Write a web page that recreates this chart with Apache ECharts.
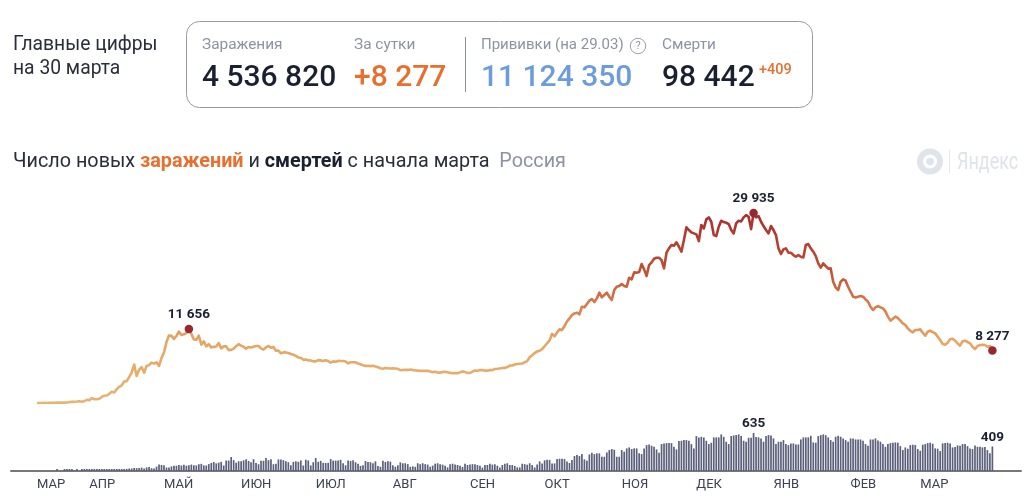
<!DOCTYPE html>
<html lang="ru"><head><meta charset="utf-8">
<script src="https://cdn.jsdelivr.net/npm/echarts@6/dist/echarts.min.js"></script>
<style>html,body{margin:0;padding:0;background:#fff}#c{width:1032px;height:502px}</style>
</head><body><div id="c"></div>
<script>
// daily series start on 11 Mar 2020 and end on 30 Mar 2021
const newCases = [
8,6,11,14,4,30,21,33,52,54,53,57,71,163,182,196,228,270,197,302,500,
440,771,601,582,658,954,1154,1175,1459,1786,1667,2186,2558,2774,3388,3448,4070,4785,6060,4268,5236,5642,4774,5849,5966,6361,6198,6411,5841,7099,
7933,9623,10633,10581,10102,10559,11231,10699,10817,11012,11656,10899,10028,9974,10598,9200,9709,8926,9263,8764,8849,8894,9434,8599,8946,8915,8338,8371,8572,8952,9268,
9035,8863,8536,8831,8726,8855,8984,8985,8595,8404,8779,8987,8706,8835,8246,8248,7843,7972,7972,7889,7728,7600,7425,7176,7113,6800,6852,6719,6693,6556,
6556,6760,6718,6632,6736,6611,6368,6562,6509,6635,6611,6615,6537,6248,6422,6428,6406,6234,6109,5940,5842,5862,5811,5871,5765,5635,5475,5395,5509,5482,5427,
5462,5427,5394,5159,5204,5241,5212,5267,5189,5118,5102,5057,5065,5061,5077,4969,4839,4914,4790,4785,4870,4921,4852,4744,4696,4711,4676,4829,4980,4897,4729,
4729,4952,5110,5063,5195,5185,5099,5099,5218,5172,5363,5394,5449,5509,5529,5670,5905,5905,6065,6148,6196,6215,6431,6595,7212,7523,7867,8135,8232,8481,
8945,9412,9859,10888,10499,11115,11615,11493,12126,12846,13335,13860,14120,14230,13965,15170,15070,15590,16120,16380,15910,16485,17380,16640,17010,17380,16750,16220,17800,18320,18430,
18740,18430,18320,19740,19480,20580,20530,20630,21890,21050,20000,21735,22155,22730,22890,22890,22520,21210,23680,24360,24885,24780,25305,24620,23835,25670,27670,27250,26880,26720,
26565,25515,28035,27510,28930,29240,28560,26460,26300,27770,28720,28510,28400,28190,27250,26720,28300,28720,28610,29240,29610,29350,27400,29935,29240,29450,28560,27880,27250,26720,27880,
27250,26460,24360,23470,24200,24360,23680,23680,23310,23050,23310,23050,22940,24885,25040,24360,23835,23150,22000,21315,22000,21580,21160,21210,19110,18220,17800,19110,19480,19270,18320,
17535,16750,16640,16750,16850,16750,16330,15960,15170,14650,15070,15280,15070,14910,14440,13600,12970,13280,13600,13390,12970,12550,12290,11760,11390,11130,11500,11500,
11600,11080,10600,11235,11390,11180,10970,10450,9920,9290,9190,9500,10030,10130,9820,9400,9030,9710,9820,9610,9400,8870,8500,8980,9135,9190,9135,8870,8980,8277
];
const newDeaths = [
null,null,null,null,null,null,null,null,1,null,null,1,1,1,1,null,3,null,1,1,4,
2,9,2,4,4,2,11,18,13,12,12,13,22,18,28,36,41,42,48,47,51,57,42,60,66,47,43,72,108,101,
96,57,58,76,86,88,98,92,104,88,94,107,96,93,113,119,94,91,115,135,150,127,139,153,92,174,174,232,181,138,162,
162,178,197,169,144,197,134,112,171,171,216,181,194,113,119,194,193,181,161,147,95,153,161,154,176,92,188,176,93,147,
216,154,168,135,134,136,198,173,174,174,188,130,95,173,165,181,146,119,85,95,165,150,147,129,161,85,70,169,150,161,156,
95,70,95,144,129,129,114,70,77,70,129,114,129,114,107,70,90,122,129,114,107,88,60,114,121,107,100,86,68,121,100,
107,114,114,100,88,57,100,100,121,107,114,88,58,100,121,129,100,100,85,60,60,121,114,105,129,99,60,110,160,125,
177,188,183,127,127,199,205,205,199,160,133,183,249,266,249,282,194,172,277,305,282,294,294,238,238,310,349,366,355,238,238,
349,321,377,393,366,377,377,294,283,377,432,443,421,404,360,305,449,460,465,465,465,404,360,500,504,515,515,504,449,377,
582,558,570,559,504,449,471,560,560,560,610,570,488,449,582,593,599,610,582,504,488,554,554,635,565,560,543,488,582,599,593,
543,449,488,488,515,449,432,460,460,443,443,526,560,560,560,587,476,471,582,598,610,598,560,515,488,571,587,571,543,515,488,
543,543,526,526,526,504,449,421,526,526,543,510,488,449,404,449,465,471,476,471,415,349,393,371,432,438,432,366,
338,438,449,465,471,454,377,371,332,460,465,471,460,393,399,427,421,449,449,415,377,366,427,404,404,393,399,349,294,409
];
const monthNames = ['МАР','АПР','МАЙ','ИЮН','ИЮЛ','АВГ','СЕН','ОКТ','НОЯ','ДЕК','ЯНВ','ФЕВ','МАР','АПР'];
const monthDays  = [31,30,31,30,31,31,30,31,30,31,31,28,31,10];
const leadDays = 10;      // empty days before the first reading
const caseMarks  = [[71,'11 656'],[298,'29 935'],[394,'8 277']];   // day index, label
const deathMarks = [[298,'635'],[394,'409']];

const categories = [], tickText = {};
monthNames.forEach((m,k)=>{
  for(let d=0;d<monthDays[k];d++){
    const name=m+'-'+k+'-'+(d+1);
    if(k<13 && ((k===0&&d===leadDays)||(k>0&&d===0))) tickText[name]=m;
    categories.push(name);
  }
});
const pad = a => Array(leadDays).fill(null).concat(a);
const caseData = pad(newCases), deathData = pad(newDeaths);
deathMarks.forEach(([i,t])=>{ deathData[i]={value:deathData[i],label:{show:true,position:'top',distance:2,formatter:t,color:'#1b2030',fontFamily:'Roboto',fontWeight:700,fontSize:13.5}}; });

const FONT='Roboto', GREY='#8e93a3', DARK='#1b2030', ORANGE='#e8702f', BLUE='#6c9cdb';
const t=(x,y,text,size,color,weight,extra)=>({type:'text',x,y,silent:true,style:Object.assign({text,fontFamily:FONT,fontSize:size,fontWeight:weight||400,fill:color,textVerticalAlign:'middle'},extra||{})});

const chart=echarts.init(document.getElementById('c'),null,{renderer:'canvas'});
chart.setOption({
  animation:false,
  title:{left:13,top:152,padding:0,text:'{n|Число новых }{o|заражений}{n| и }{b|смертей}{n| с начала марта}{g|  Россия}',
    textStyle:{fontWeight:400,rich:{
      n:{fontFamily:FONT,fontSize:19.8,fontWeight:400,color:'#2a2e3a'},
      o:{fontFamily:FONT,fontSize:19.8,color:ORANGE,fontWeight:700},
      b:{fontFamily:FONT,fontSize:19.8,color:DARK,fontWeight:700},
      g:{fontFamily:FONT,fontSize:19.8,fontWeight:400,color:GREY}
    }}},
  grid:[{left:11,right:11,top:212.6,height:190.4},{left:11,right:11,top:429,height:42}],
  xAxis:[
    {type:'category',gridIndex:0,data:categories,show:false},
    {type:'category',gridIndex:1,data:categories,
      axisLine:{lineStyle:{color:'#77787d',width:2}},axisTick:{show:false},
      axisLabel:{interval:(i,v)=>v in tickText,formatter:v=>tickText[v]||'',align:'left',margin:7,color:'#3d4152',fontFamily:FONT,fontSize:13,hideOverlap:false}}
  ],
  yAxis:[
    {type:'value',gridIndex:0,min:0,max:30000,show:false},
    {type:'value',gridIndex:1,min:0,max:700,show:false}
  ],
  series:[
    {type:'bar',xAxisIndex:1,yAxisIndex:1,data:deathData,barWidth:1.7,barMinHeight:2,itemStyle:{color:'#5c607a'},z:3},
    {type:'line',xAxisIndex:0,yAxisIndex:0,data:caseData,showSymbol:false,symbol:'none',
      lineStyle:{width:2.6,join:'round',color:new echarts.graphic.LinearGradient(0,0,0,1,[
        {offset:0,color:'#a62e2d'},{offset:.28,color:'#bd4a32'},{offset:.5,color:'#db7d4c'},{offset:.66,color:'#e6a563'},{offset:1,color:'#e6b473'}])},z:4},
    {type:'scatter',xAxisIndex:0,yAxisIndex:0,symbolSize:8.5,itemStyle:{color:'#992630',opacity:1},z:5,
      data:caseMarks.map(([i,l])=>({value:[i,caseData[i]],label:{show:true,position:'top',distance:3,formatter:l,color:DARK,fontFamily:FONT,fontWeight:700,fontSize:13.5}}))}
  ],
  graphic:{elements:[
    t(13,45,'Главные цифры',19.3,'#2a2e3a'),
    t(13,69,'на 30 марта',19.3,'#2a2e3a'),
    {type:'rect',shape:{x:186.5,y:21.5,width:626,height:86,r:13},style:{fill:'none',stroke:'#98999e',lineWidth:1},silent:true},
    {type:'line',shape:{x1:465.5,y1:37,x2:465.5,y2:92},style:{stroke:'#8f9095',lineWidth:1},silent:true},
    t(202,45.5,'Заражения',15.4,GREY),
    t(354,45.5,'За сутки',15.4,GREY),
    t(481,45.5,'Прививки (на 29.03)',15,GREY),
    {type:'circle',shape:{cx:638,cy:46,r:7.7},style:{fill:'none',stroke:'#9a9da8',lineWidth:1},silent:true},
    t(638,46,'?',11,'#8e93a3',400,{textAlign:'center'}),
    t(662,45.5,'Смерти',15.4,GREY),
    t(202,78,'4 536 820',30,DARK,500),
    t(354,78,'+8 277',30,ORANGE,500),
    t(481,78,'11 124 350',30,BLUE,500),
    t(662,78,'98 442',30,DARK,500),
    t(759,70.5,'+409',14.5,ORANGE,500),
    {type:'circle',shape:{cx:930,cy:161.5,r:10},style:{fill:'none',stroke:'#dfe3ea',lineWidth:6},silent:true},
    {type:'circle',shape:{cx:930,cy:161.5,r:3.8},style:{fill:'#dfe3ea'},silent:true},
    {type:'line',shape:{x1:949.5,y1:150,x2:949.5,y2:173},style:{stroke:'#e4e7ec',lineWidth:1},silent:true},
    {type:'text',x:957,y:163,scaleX:1,scaleY:1.3,silent:true,style:{text:'Яндекс',fontFamily:FONT,fontSize:18,fill:'#dfe3ea',textVerticalAlign:'middle'}}
  ]}
});
</script></body></html>
